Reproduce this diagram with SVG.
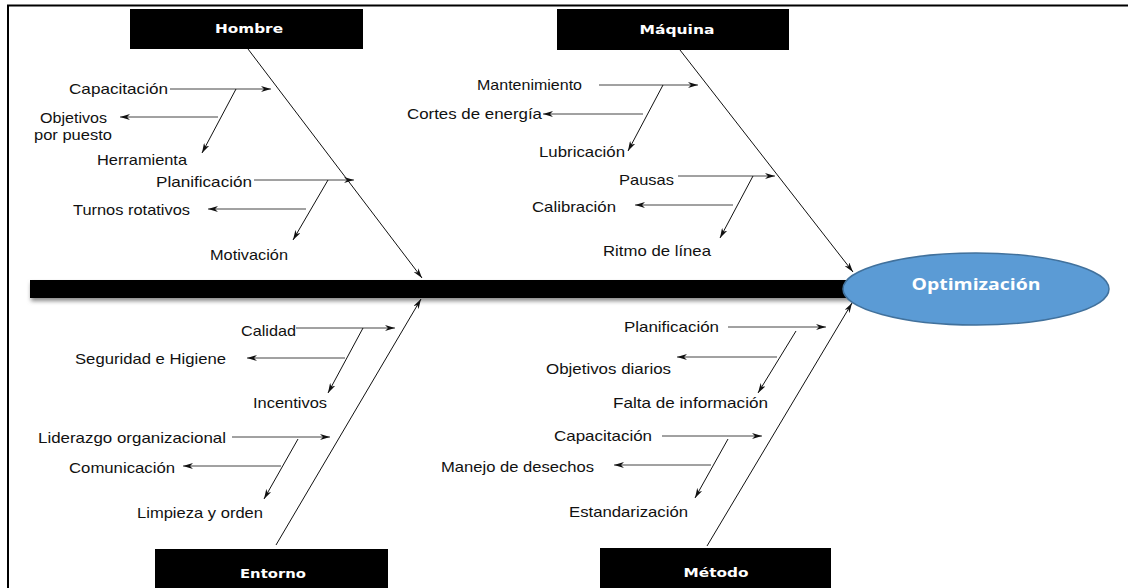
<svg xmlns="http://www.w3.org/2000/svg" width="1128" height="588" viewBox="0 0 1128 588">
<style>
.t{font-family:"Liberation Sans",Arial,sans-serif;font-size:15px;fill:#111}
.h{font-family:"DejaVu Sans","Lato",sans-serif;font-weight:bold;font-size:13px;fill:#fff;text-anchor:middle}
.ln{stroke:#111;stroke-width:1;fill:none}
.br{stroke:#444;stroke-width:1;fill:none;marker-end:url(#ah)}
.mn{stroke:#111;stroke-width:1;fill:none;marker-end:url(#ah)}
.box{fill:#000}
</style>
<defs>
<marker id="ah" viewBox="0 0 10 6" refX="10" refY="3" markerWidth="10" markerHeight="6" markerUnits="userSpaceOnUse" orient="auto">
<path d="M0,0 L10,3 L0,6 L3,3 z" fill="#111"/>
</marker>
<filter id="sh" x="-5%" y="-50%" width="110%" height="200%">
<feGaussianBlur stdDeviation="2"/>
</filter>
</defs>
<rect width="1128" height="588" fill="#fff"/>
<path d="M8,588 V5.5 H1128" stroke="#000" stroke-width="2" fill="none"/>

<g id="spine">
<rect x="31" y="283" width="824" height="18" fill="#888" filter="url(#sh)"/>
<rect x="30" y="280" width="825" height="18" fill="#000"/>
</g>

<g id="connectors">
<line class="mn" x1="248" y1="49" x2="422" y2="278"/>
<line class="mn" x1="680" y1="50" x2="853" y2="272"/>
<line class="mn" x1="276" y1="545" x2="421" y2="299"/>
<line class="mn" x1="707" y1="546" x2="852" y2="303"/>

<line class="br" x1="170" y1="89" x2="271" y2="89"/>
<line class="mn" x1="236" y1="89" x2="202" y2="153"/>
<line class="br" x1="218" y1="117" x2="120" y2="117"/>
<line class="br" x1="254" y1="180" x2="354" y2="180"/>
<line class="mn" x1="328" y1="180" x2="293" y2="240"/>
<line class="br" x1="306" y1="209" x2="208" y2="209"/>

<line class="br" x1="599" y1="85" x2="698" y2="85"/>
<line class="mn" x1="663" y1="85" x2="628" y2="151"/>
<line class="br" x1="643" y1="114" x2="543" y2="114"/>
<line class="br" x1="678" y1="176" x2="775" y2="176"/>
<line class="mn" x1="753" y1="176" x2="720" y2="238"/>
<line class="br" x1="733" y1="205" x2="635" y2="205"/>

<line class="br" x1="296" y1="328" x2="395" y2="328"/>
<line class="mn" x1="363" y1="328" x2="328" y2="393"/>
<line class="br" x1="345" y1="358" x2="247" y2="358"/>
<line class="br" x1="232" y1="437" x2="330" y2="437"/>
<line class="mn" x1="298" y1="439" x2="264" y2="499"/>
<line class="br" x1="281" y1="466" x2="183" y2="466"/>

<line class="br" x1="728" y1="327" x2="826" y2="327"/>
<line class="mn" x1="796" y1="331" x2="758" y2="393"/>
<line class="br" x1="777" y1="357" x2="677" y2="357"/>
<line class="br" x1="662" y1="436" x2="762" y2="436"/>
<line class="mn" x1="728" y1="439" x2="695" y2="498"/>
<line class="br" x1="711" y1="465" x2="614" y2="465"/>
</g>

<g id="optimizacion">
<ellipse cx="976" cy="289" rx="133" ry="36" fill="#5B9BD5" stroke="#41719C" stroke-width="1.5"/>
<text x="976" y="290" text-anchor="middle" textLength="129" lengthAdjust="spacingAndGlyphs" style="font-family:'Open Sans','Noto Sans',sans-serif;font-weight:bold;font-size:16px;fill:#fff">Optimización</text>
</g>

<g id="hombre">
<rect class="box" x="130" y="9" width="233" height="40"/>
<text class="h" x="249" y="33" textLength="68" lengthAdjust="spacingAndGlyphs">Hombre</text>
<text class="t" x="69" y="94" textLength="99" lengthAdjust="spacingAndGlyphs">Capacitación</text>
<text class="t" x="40" y="123" textLength="67" lengthAdjust="spacingAndGlyphs">Objetivos</text>
<text class="t" x="34" y="140" textLength="78" lengthAdjust="spacingAndGlyphs">por puesto</text>
<text class="t" x="97" y="165" textLength="90" lengthAdjust="spacingAndGlyphs">Herramienta</text>
<text class="t" x="156" y="187" textLength="96" lengthAdjust="spacingAndGlyphs">Planificación</text>
<text class="t" x="73" y="215" textLength="117" lengthAdjust="spacingAndGlyphs">Turnos rotativos</text>
<text class="t" x="210" y="260" textLength="78" lengthAdjust="spacingAndGlyphs">Motivación</text>
</g>

<g id="maquina">
<rect class="box" x="557" y="9" width="232" height="41"/>
<text class="h" x="677" y="34" textLength="75" lengthAdjust="spacingAndGlyphs">Máquina</text>
<text class="t" x="477" y="90" textLength="105" lengthAdjust="spacingAndGlyphs">Mantenimiento</text>
<text class="t" x="407" y="119" textLength="135" lengthAdjust="spacingAndGlyphs">Cortes de energía</text>
<text class="t" x="539" y="157" textLength="86" lengthAdjust="spacingAndGlyphs">Lubricación</text>
<text class="t" x="619" y="185" textLength="55" lengthAdjust="spacingAndGlyphs">Pausas</text>
<text class="t" x="532" y="212" textLength="84" lengthAdjust="spacingAndGlyphs">Calibración</text>
<text class="t" x="603" y="256" textLength="108" lengthAdjust="spacingAndGlyphs">Ritmo de línea</text>
</g>

<g id="entorno">
<rect class="box" x="155" y="549" width="233" height="39"/>
<text class="h" x="273" y="578" textLength="66" lengthAdjust="spacingAndGlyphs">Entorno</text>
<text class="t" x="241" y="336" textLength="55" lengthAdjust="spacingAndGlyphs">Calidad</text>
<text class="t" x="75" y="364" textLength="151" lengthAdjust="spacingAndGlyphs">Seguridad e Higiene</text>
<text class="t" x="253" y="408" textLength="74" lengthAdjust="spacingAndGlyphs">Incentivos</text>
<text class="t" x="38" y="443" textLength="188" lengthAdjust="spacingAndGlyphs">Liderazgo organizacional</text>
<text class="t" x="69" y="473" textLength="106" lengthAdjust="spacingAndGlyphs">Comunicación</text>
<text class="t" x="137" y="518" textLength="126" lengthAdjust="spacingAndGlyphs">Limpieza y orden</text>
</g>

<g id="metodo">
<rect class="box" x="600" y="548" width="231" height="40"/>
<text class="h" x="716" y="577" textLength="65" lengthAdjust="spacingAndGlyphs">Método</text>
<text class="t" x="624" y="332" textLength="95" lengthAdjust="spacingAndGlyphs">Planificación</text>
<text class="t" x="546" y="374" textLength="125" lengthAdjust="spacingAndGlyphs">Objetivos  diarios</text>
<text class="t" x="613" y="408" textLength="155" lengthAdjust="spacingAndGlyphs">Falta de información</text>
<text class="t" x="554" y="441" textLength="98" lengthAdjust="spacingAndGlyphs">Capacitación</text>
<text class="t" x="441" y="472" textLength="153" lengthAdjust="spacingAndGlyphs">Manejo de desechos</text>
<text class="t" x="569" y="517" textLength="119" lengthAdjust="spacingAndGlyphs">Estandarización</text>
</g>
</svg>
